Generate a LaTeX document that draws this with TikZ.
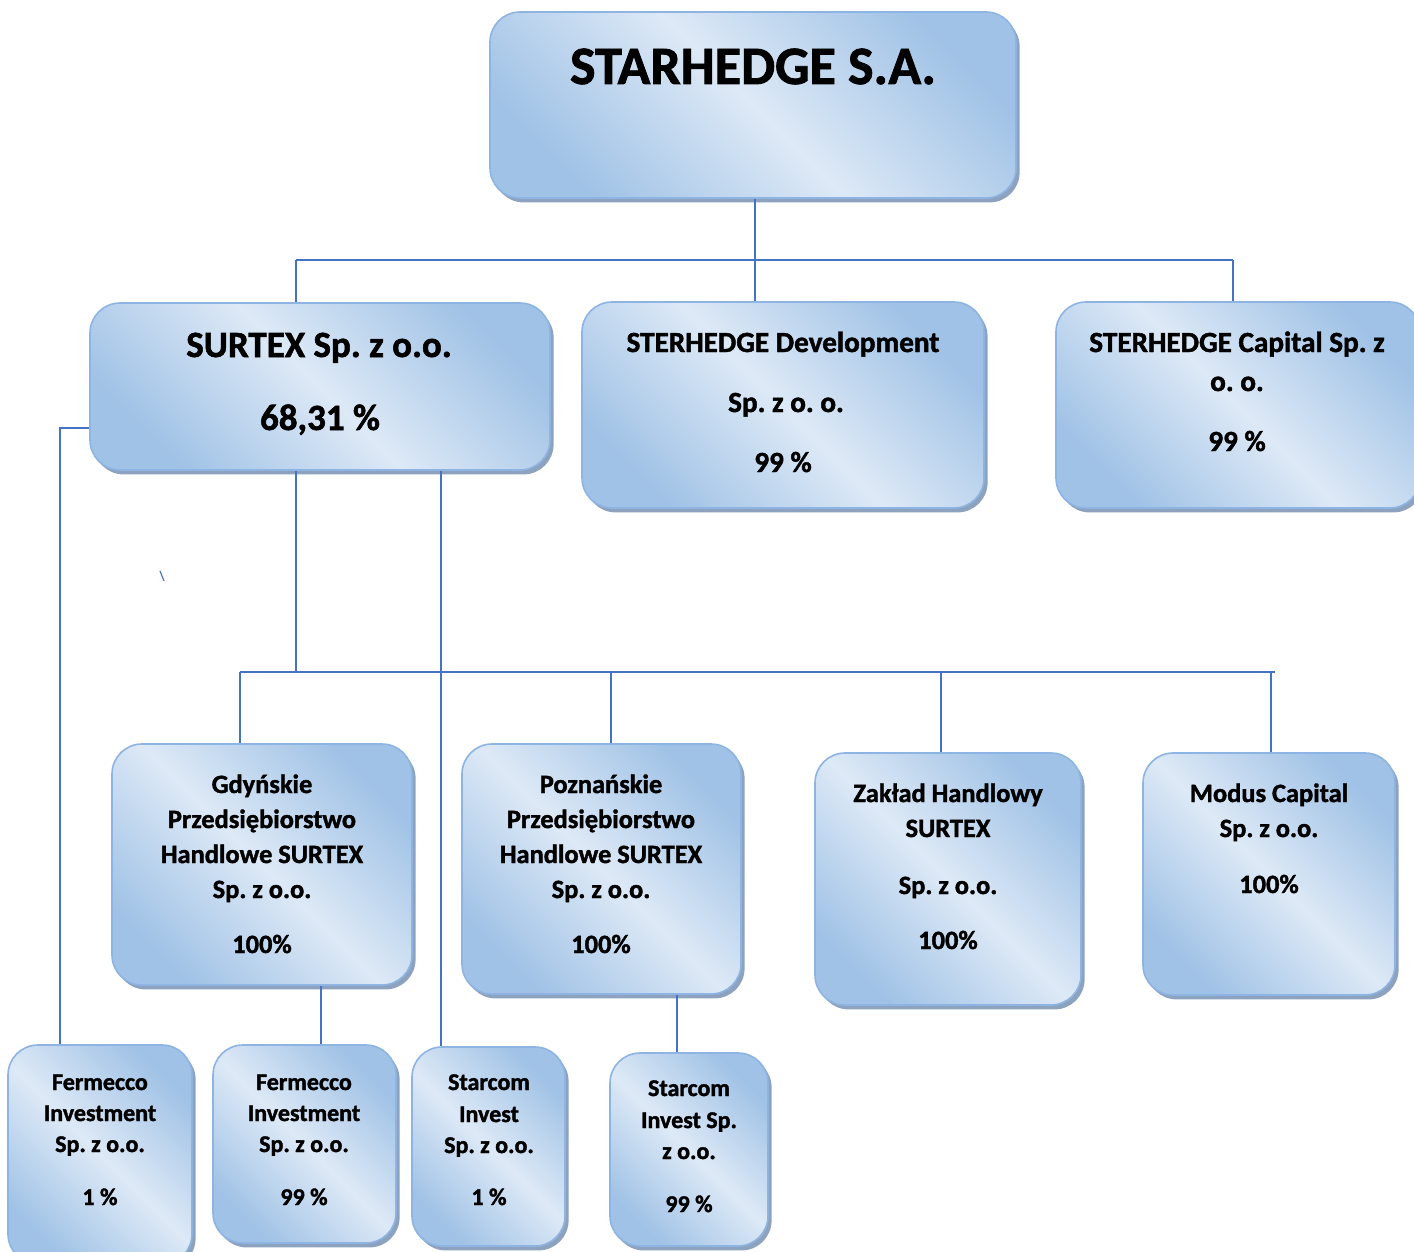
\documentclass[tikz,border=0pt]{standalone}
\usepackage{fontspec}
\setmainfont{Carlito}[BoldFeatures={FakeBold=1.5}]
\frenchspacing
\usetikzlibrary{shadows}
\definecolor{boxdark}{HTML}{A0C2E6}
\definecolor{boxlight}{HTML}{DDE9F6}
\definecolor{boxedge}{HTML}{8DB4E2}
\definecolor{shadowc}{HTML}{8DA2BF}
\definecolor{conncol}{HTML}{4472C4}
\tikzset{
  box/.style={rectangle, rounded corners=15pt, draw=boxedge, line width=0.8pt,
    top color=boxdark, bottom color=boxdark, middle color=boxlight, shading angle=-45,
    drop shadow={shadow xshift=1.8pt, shadow yshift=-2.2pt, fill=shadowc, opacity=1},
    inner sep=0pt},
  conn/.style={draw=conncol, line width=0.6pt},
  txt/.style={inner sep=0pt, anchor=base, font=\bfseries},
  tA/.style={txt, font=\bfseries\fontsize{27}{32}\selectfont},
  tB/.style={txt, font=\bfseries\fontsize{18.5}{22}\selectfont},
  tC/.style={txt, font=\bfseries\fontsize{14.6}{17}\selectfont},
  tD/.style={txt, font=\bfseries\fontsize{13.2}{15}\selectfont},
  tE/.style={txt, font=\bfseries\fontsize{12}{14}\selectfont},
}
\newcommand\bx[5]{%
  \pgfmathsetmacro\bw{(#4-#2)*0.5}%
  \pgfmathsetmacro\bh{(#5-#3)*0.5}%
  \node[box, minimum width=\bw pt, minimum height=\bh pt] (#1) at ({(#2+#4)/2},{(#3+#5)/2}) {};}
\begin{document}
\begin{tikzpicture}[x=0.5pt, y=-0.5pt]
\useasboundingbox[fill=white] (0,0) rectangle (1414,1252);

% junction coordinates
\coordinate (j1) at (755,260);
\coordinate (h1l) at (296,260);
\coordinate (h1r) at (1233,260);
\coordinate (sx1) at (296,472);
\coordinate (j2) at (296,672);
\coordinate (h2l) at (240,672);
\coordinate (h2r) at (1275,672);
\coordinate (sx2) at (441,472);
\coordinate (lw) at (60,428);
\coordinate (st1) at (160,571);
\coordinate (st2) at (164,581);

% boxes
\bx{top}{490}{12}{1016}{198}
\bx{surtex}{90}{303}{550}{470}
\bx{dev}{582}{302}{984}{508}
\bx{cap}{1056}{302}{1420}{508}
\bx{gd}{112}{744}{412}{985}
\bx{pz}{462}{744}{741}{994}
\bx{zk}{815}{753}{1081}{1005}
\bx{md}{1143}{753}{1395}{995}
\bx{fa}{8}{1045}{192}{1264}
\bx{fb}{213}{1045}{396}{1243}
\bx{sa}{412}{1047}{565}{1246}
\bx{sb}{610}{1053}{768}{1246}

% connectors
\draw[conn] (j1 |- top.south) -- (j1);
\draw[conn] (h1l) -- (h1r);
\draw[conn] (h1l) -- (h1l |- surtex.north);
\draw[conn] (j1) -- (j1 |- dev.north);
\draw[conn] (h1r) -- (h1r |- cap.north);
\draw[conn] (sx1 |- surtex.south) -- (j2);
\draw[conn] (h2l) -- (h2r);
\draw[conn] (h2l) -- (h2l |- gd.north);
\draw[conn] (611,672) -- (611,672 |- pz.north);
\draw[conn] (941,672) -- (941,672 |- zk.north);
\draw[conn] (h2r) -- (1271,672) -- (1271,672 |- md.north);
\draw[conn] (sx2 |- surtex.south) -- (sx2 |- sa.north);
\draw[conn] (surtex.west |- lw) -- (lw) -- (lw |- fa.north);
\draw[conn] (321,0 |- gd.south) -- (321,0 |- fb.north);
\draw[conn] (677,0 |- pz.south) -- (677,0 |- sb.north);
\draw[conn] (st1) -- (st2);

% texts
\node[tA] (t0) at (753,84) {STARHEDGE S.A.};

\node[tB] (t1a) at (319,357) {SURTEX Sp. z o.o.};
\node[tB] (t1b) at (320,430) {68,31 \%};

\node[tC] (t2a) at (783,352) {STERHEDGE Development};
\node[tC] (t2b) at (786,412) {Sp. z o. o.};
\node[tC] (t2c) at (783,472) {99 \%};

\node[tC] (t3a) at (1237,352) {STERHEDGE Capital Sp. z};
\node[tC] (t3b) at (1237,391) {o. o.};
\node[tC] (t3c) at (1237,451) {99 \%};

\node[tD] (t4a) at (262,793) {Gdyńskie};
\node[tD] (t4b) at (262,828) {Przedsiębiorstwo};
\node[tD] (t4c) at (262,863) {Handlowe SURTEX};
\node[tD] (t4d) at (262,898) {Sp. z o.o.};
\node[tD] (t4e) at (262,953) {100\%};

\node[tD] (t5a) at (601,793) {Poznańskie};
\node[tD] (t5b) at (601,828) {Przedsiębiorstwo};
\node[tD] (t5c) at (601,863) {Handlowe SURTEX};
\node[tD] (t5d) at (601,898) {Sp. z o.o.};
\node[tD] (t5e) at (601,953) {100\%};

\node[tD] (t6a) at (948,802) {Zakład Handlowy};
\node[tD] (t6b) at (948,837) {SURTEX};
\node[tD] (t6c) at (948,894) {Sp. z o.o.};
\node[tD] (t6d) at (948,949) {100\%};

\node[tD] (t7a) at (1269,802) {Modus Capital};
\node[tD] (t7b) at (1269,837) {Sp. z o.o.};
\node[tD] (t7c) at (1269,893) {100\%};

\node[tE] (t8a) at (100,1090) {Fermecco};
\node[tE] (t8b) at (100,1121) {Investment};
\node[tE] (t8c) at (100,1152) {Sp. z o.o.};
\node[tE] (t8d) at (100,1205) {1 \%};

\node[tE] (t9a) at (304,1090) {Fermecco};
\node[tE] (t9b) at (304,1121) {Investment};
\node[tE] (t9c) at (304,1152) {Sp. z o.o.};
\node[tE] (t9d) at (304,1205) {99 \%};

\node[tE] (t10a) at (489,1090) {Starcom};
\node[tE] (t10b) at (489,1122) {Invest};
\node[tE] (t10c) at (489,1153) {Sp. z o.o.};
\node[tE] (t10d) at (489,1205) {1 \%};

\node[tE] (t11a) at (689,1096) {Starcom};
\node[tE] (t11b) at (689,1128) {Invest Sp.};
\node[tE] (t11c) at (689,1159) {z o.o.};
\node[tE] (t11d) at (689,1212) {99 \%};
\end{tikzpicture}
\end{document}
